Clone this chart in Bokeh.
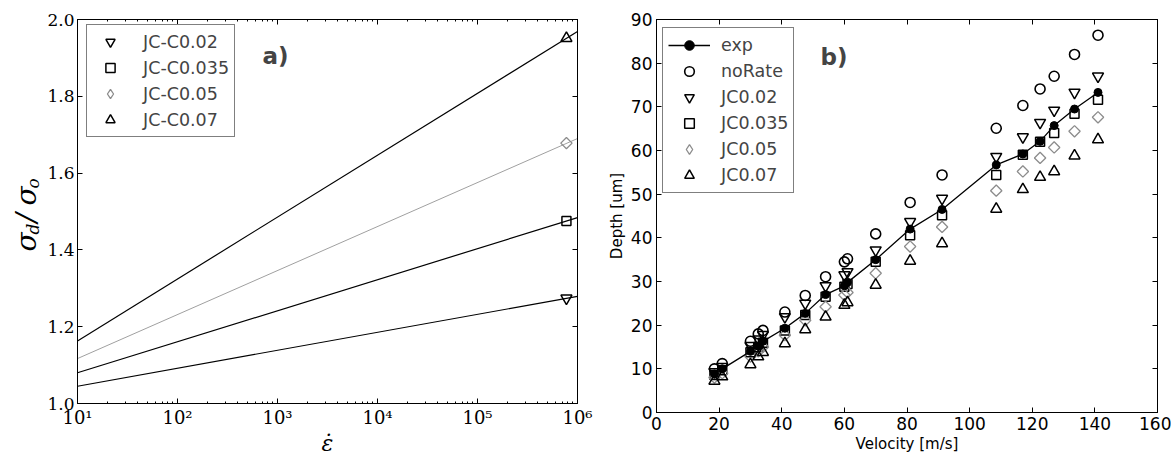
from math import pi
from bokeh.plotting import figure
from bokeh.layouts import row, column
from bokeh.models import (Legend, LegendItem, Label, LinearAxis, LogAxis,
                          FixedTicker, PrintfTickFormatter, Range1d)
from bokeh.embed import file_html
from bokeh.resources import INLINE

# ---------------- Panel a) : sigma_d / sigma_o vs strain rate ----------------
strain_rate_line = [1e1, 1e6]
jc002_line = [1.045, 1.279]
jc0035_line = [1.080, 1.484]
jc005_line = [1.117, 1.690]
jc007_line = [1.163, 1.969]
marker_rate = [7.75e5]
jc002_pt = [1.274]
jc0035_pt = [1.475]
jc005_pt = [1.678]
jc007_pt = [1.951]
log_ticks = [1e1, 1e2, 1e3, 1e4, 1e5, 1e6]
log_tick_labels = ["10¹", "10²", "10³", "10⁴", "10⁵", "10⁶"]
ratio_ticks = [1.0, 1.2, 1.4, 1.6, 1.8, 2.0]

# ---------------- Panel b) : Depth vs velocity ----------------
velocity = [18.5, 21, 30, 32.5, 34, 41, 47.5, 54, 60, 61, 70, 81, 91.2,
            108.5, 117, 122.5, 127, 133.5, 141]
exp_depth = [8.8, 10.0, 14.0, 15.2, 16.3, 19.3, 22.7, 27.0, 29.0, 29.8, 35.0,
             42.0, 46.5, 56.7, 59.2, 62.1, 65.7, 69.5, 73.3]
norate = [10.0, 11.2, 16.3, 18.0, 18.8, 23.0, 26.8, 31.1, 34.5, 35.2, 40.9,
          48.1, 54.4, 65.1, 70.3, 74.1, 77.0, 82.0, 86.4]
jc002 = [9.3, 10.5, 15.3, 16.8, 17.8, 21.9, 25.0, 29.0, 31.5, 32.2, 37.2,
         43.7, 49.0, 58.6, 63.1, 66.4, 69.2, 73.3, 77.0]
jc0035 = [8.6, 9.7, 13.8, 15.0, 16.0, 18.8, 22.3, 26.5, 28.8, 29.4, 34.5,
          40.6, 45.2, 54.4, 59.0, 62.0, 64.0, 68.4, 71.6]
jc005 = [8.0, 9.0, 12.8, 14.0, 15.0, 17.7, 21.1, 24.2, 26.9, 27.5, 31.9,
         38.0, 42.5, 50.8, 55.2, 58.3, 60.7, 64.4, 67.6]
jc007 = [7.2, 8.2, 11.0, 12.8, 13.8, 15.8, 19.0, 21.9, 24.6, 25.2, 29.2,
         34.7, 38.7, 46.6, 51.1, 53.9, 55.2, 58.8, 62.5]
vel_ticks = [0, 20, 40, 60, 80, 100, 120, 140, 160]
depth_ticks = [0, 10, 20, 30, 40, 50, 60, 70, 80, 90]

GRAY = "#8c8c8c"
SERIF = "DejaVu Serif"
SANS = "DejaVu Sans"
H = 458


def style_axis(ax, font, size):
    ax.major_tick_in = 5
    ax.major_tick_out = 0
    ax.minor_tick_in = 2
    ax.minor_tick_out = 0
    ax.axis_line_color = "black"
    ax.major_tick_line_color = "black"
    ax.major_label_text_font = font
    ax.major_label_text_font_size = size
    ax.major_label_text_color = "black"
    ax.major_label_standoff = 3


def mirror(ax):
    ax.major_label_text_font_size = "1px"
    ax.major_label_text_color = None
    ax.major_label_standoff = 0
    ax.major_tick_in = 5
    ax.major_tick_out = 0
    ax.minor_tick_in = 2
    ax.minor_tick_out = 0
    ax.axis_line_color = "black"


yr1 = Range1d(1.0, 2.0)

# ================= narrow strip holding the rotated y label of panel a ======
p0 = figure(frame_width=42, frame_height=384, x_range=(0, 42), y_range=yr1,
            output_backend="svg", toolbar_location=None,
            x_axis_location=None, y_axis_location=None,
            min_border_left=0, min_border_right=0, min_border_top=19,
            min_border_bottom=55, outline_line_color=None)
p0.grid.visible = False


def ly(py):
    return 2 - (py - 19) / 384


ylab_parts = [("σ", "28px", 26, 251), ("d", "17px", 32, 234),
              ("/", "28px", 26, 222), ("σ", "28px", 26, 205),
              ("o", "17px", 32, 188)]
for t, fs, px, py in ylab_parts:
    p0.add_layout(Label(x=px, y=ly(py), text=t, angle=pi / 2,
                        text_font=SERIF, text_font_size=fs,
                        text_font_style="italic", text_align="left",
                        text_baseline="alphabetic", text_color="black"))

# ================= figure a =================
p1 = figure(width=561, height=H, x_axis_type="log", x_range=(10, 1e6),
            y_range=yr1, output_backend="svg", toolbar_location=None,
            min_border_left=35, min_border_right=26, min_border_top=19,
            min_border_bottom=55)
p1.grid.visible = False
p1.outline_line_color = "black"
p1.background_fill_color = "white"

minor_log = [m * 10 ** k for k in range(1, 6) for m in range(2, 10)]
p1.xaxis.ticker = FixedTicker(ticks=log_ticks, minor_ticks=minor_log)
p1.xaxis.major_label_overrides = {int(t): l for t, l in zip(log_ticks, log_tick_labels)}
p1.yaxis.ticker = FixedTicker(ticks=ratio_ticks)
p1.yaxis.formatter = PrintfTickFormatter(format="%.1f")
style_axis(p1.xaxis[0], SERIF, "18px")
style_axis(p1.yaxis[0], SERIF, "17px")
p1.yaxis.minor_tick_line_color = None
p1.xaxis.axis_label = "ε̇"
p1.xaxis.axis_label_text_font = SERIF
p1.xaxis.axis_label_text_font_size = "22px"
p1.xaxis.axis_label_text_font_style = "italic"
p1.xaxis.axis_label_text_color = "black"
p1.xaxis.axis_label_standoff = 0

top1 = LogAxis(ticker=FixedTicker(ticks=log_ticks, minor_ticks=minor_log))
mirror(top1)
p1.add_layout(top1, "above")
right1 = LinearAxis(ticker=FixedTicker(ticks=ratio_ticks))
mirror(right1)
right1.minor_tick_line_color = None
p1.add_layout(right1, "right")

p1.line(strain_rate_line, jc002_line, line_color="black", line_width=1.2)
p1.line(strain_rate_line, jc0035_line, line_color="black", line_width=1.2)
p1.line(strain_rate_line, jc005_line, line_color="#a0a0a0", line_width=1.0)
p1.line(strain_rate_line, jc007_line, line_color="black", line_width=1.2)

ra1 = p1.scatter(marker_rate, jc002_pt, marker="inverted_triangle", size=11,
                 fill_color=None, line_color="black", line_width=1.5)
ra2 = p1.scatter(marker_rate, jc0035_pt, marker="square", size=9,
                 fill_color=None, line_color="black", line_width=1.5)
p1.scatter(marker_rate, jc005_pt, marker="square", angle=pi / 4, size=8,
           fill_color=None, line_color=GRAY, line_width=1.3)
# legend proxy (lies outside the visible ranges, only used for the key)
ra3_leg = p1.scatter([1.0], [0.0], marker="diamond", size=13, fill_color=None,
                     line_color=GRAY, line_width=1.3)
ra4 = p1.scatter(marker_rate, jc007_pt, marker="triangle", size=11,
                 fill_color=None, line_color="black", line_width=1.5)

leg1 = Legend(items=[LegendItem(label="JC-C0.02", renderers=[ra1]),
                     LegendItem(label="JC-C0.035", renderers=[ra2]),
                     LegendItem(label="JC-C0.05", renderers=[ra3_leg]),
                     LegendItem(label="JC-C0.07", renderers=[ra4])],
              location=(9, 266), padding=5, spacing=3, glyph_width=36,
              glyph_height=23, label_height=23, label_standoff=15,
              label_text_font=SANS, label_text_font_size="17.5px",
              border_line_color="black", border_line_width=1,
              background_fill_color="white", background_fill_alpha=1.0,
              margin=0)
p1.add_layout(leg1)

p1.add_layout(Label(x=10 ** 2.85, y=1.906, text="a)", text_font=SANS,
                    text_font_size="23px", text_font_style="bold",
                    text_baseline="middle", text_align="left"))

# ================= figure b =================
p2 = figure(width=568, height=H, x_range=(0, 160), y_range=(0, 90),
            output_backend="svg", toolbar_location=None,
            min_border_left=53, min_border_right=14, min_border_top=19,
            min_border_bottom=46)
p2.grid.visible = False
p2.outline_line_color = "black"
p2.xaxis.ticker = FixedTicker(ticks=vel_ticks)
p2.yaxis.ticker = FixedTicker(ticks=depth_ticks)
style_axis(p2.xaxis[0], SANS, "17px")
style_axis(p2.yaxis[0], SANS, "17px")
p2.xaxis.major_label_standoff = 4
p2.yaxis.major_label_standoff = 4
p2.xaxis.minor_tick_line_color = None
p2.yaxis.minor_tick_line_color = None
p2.xaxis.axis_label = "Velocity [m/s]"
p2.yaxis.axis_label = "Depth [um]"
for ax in (p2.xaxis[0], p2.yaxis[0]):
    ax.axis_label_text_font = SANS
    ax.axis_label_text_font_size = "15px"
    ax.axis_label_text_font_style = "normal"
    ax.axis_label_text_color = "black"
p2.xaxis.axis_label_standoff = 2
p2.yaxis.axis_label_standoff = 2

top2 = LinearAxis(ticker=FixedTicker(ticks=vel_ticks))
mirror(top2)
top2.minor_tick_line_color = None
p2.add_layout(top2, "above")
right2 = LinearAxis(ticker=FixedTicker(ticks=depth_ticks))
mirror(right2)
right2.minor_tick_line_color = None
p2.add_layout(right2, "right")

rb_no = p2.scatter(velocity, norate, marker="circle", size=10, fill_color=None,
                   line_color="black", line_width=1.6)
rb_02 = p2.scatter(velocity, jc002, marker="inverted_triangle", size=11,
                   fill_color=None, line_color="black", line_width=1.5)
rb_035 = p2.scatter(velocity, jc0035, marker="square", size=9, fill_color=None,
                    line_color="black", line_width=1.5)
p2.scatter(velocity, jc005, marker="square", angle=pi / 4, size=8,
           fill_color=None, line_color=GRAY, line_width=1.3)
# legend proxy (lies outside the visible ranges, only used for the key)
rb_05_leg = p2.scatter([-100.0], [-100.0], marker="diamond", size=13,
                       fill_color=None, line_color=GRAY, line_width=1.3)
rb_07 = p2.scatter(velocity, jc007, marker="triangle", size=11, fill_color=None,
                   line_color="black", line_width=1.5)
rb_exp_l = p2.line(velocity, exp_depth, line_color="black", line_width=1.3)
rb_exp_p = p2.scatter(velocity, exp_depth, marker="circle", size=8,
                      fill_color="black", line_color="black")

leg2 = Legend(items=[LegendItem(label="exp", renderers=[rb_exp_l, rb_exp_p]),
                     LegendItem(label="noRate", renderers=[rb_no]),
                     LegendItem(label="JC0.02", renderers=[rb_02]),
                     LegendItem(label="JC0.035", renderers=[rb_035]),
                     LegendItem(label="JC0.05", renderers=[rb_05_leg]),
                     LegendItem(label="JC0.07", renderers=[rb_07])],
              location=(6, 219), padding=5, spacing=2, glyph_width=42,
              glyph_height=24, label_height=24, label_standoff=11,
              label_text_font=SANS, label_text_font_size="17.5px",
              border_line_color="black", border_line_width=1,
              background_fill_color="white", background_fill_alpha=1.0,
              margin=0)
p2.add_layout(leg2)

p2.add_layout(Label(x=52.4, y=81.3, text="b)", text_font=SANS,
                    text_font_size="23px", text_font_style="bold",
                    text_baseline="middle", text_align="left"))

layout = row(p0, p1, column(p2))
open("out.html", "w").write(file_html(layout, INLINE))
